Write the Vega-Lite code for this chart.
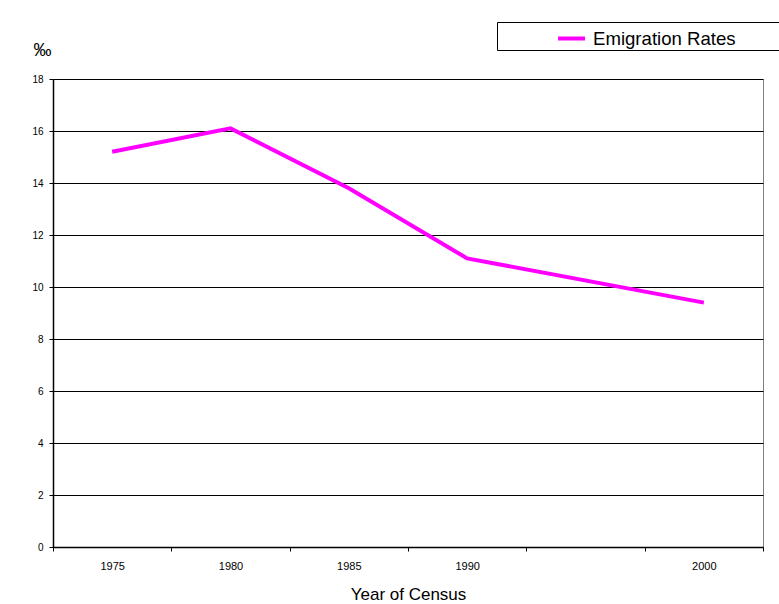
{
  "$schema": "https://vega.github.io/schema/vega-lite/v6.json",
  "width": 710,
  "height": 468,
  "autosize": {"type": "none"},
  "padding": {"left": 53, "top": 79, "right": 16, "bottom": 57},
  "background": "white",
  "config": {
    "font": "Liberation Sans",
    "view": {"stroke": "#808080", "strokeWidth": 1}
  },
  "data": {
    "values": [
      {"year": "1975", "rate": 15.2, "series": "Emigration Rates"},
      {"year": "1980", "rate": 16.1, "series": "Emigration Rates"},
      {"year": "1985", "rate": 13.8, "series": "Emigration Rates"},
      {"year": "1990", "rate": 11.1, "series": "Emigration Rates"},
      {"year": "2000", "rate": 9.4, "series": "Emigration Rates"}
    ]
  },
  "mark": {"type": "line", "strokeWidth": 4},
  "encoding": {
    "x": {
      "field": "year",
      "type": "ordinal",
      "bandPosition": 0.5,
      "scale": {"type": "band", "domain": ["1975", "1980", "1985", "1990", "1995", "2000"], "paddingInner": 0, "paddingOuter": 0},
      "axis": {
        "title": "Year of Census",
        "titleFontSize": 17,
        "titleFontWeight": "normal",
        "titleColor": "black",
        "titleBaseline": "middle",
        "titleY": 47,
        "labelAngle": 0,
        "labelFontSize": 11,
        "labelColor": "black",
        "labelPadding": 9,
        "labelExpr": "datum.value == '1995' ? '' : datum.value",
        "tickBand": "extent",
        "tickSize": 4,
        "tickColor": "black",
        "domainColor": "black",
        "domainWidth": 1.5,
        "grid": false
      }
    },
    "y": {
      "field": "rate",
      "type": "quantitative",
      "scale": {"domain": [0, 18], "nice": false},
      "axis": {
        "title": "‰",
        "titleAngle": 0,
        "titleFontSize": 18,
        "titleFontWeight": "normal",
        "titleColor": "black",
        "titleX": -11,
        "titleY": -29,
        "titleAlign": "center",
        "titleBaseline": "middle",
        "values": [0, 2, 4, 6, 8, 10, 12, 14, 16, 18],
        "labelFontSize": 10,
        "labelColor": "black",
        "labelPadding": 6,
        "tickSize": 4,
        "tickColor": "black",
        "domainColor": "black",
        "domainWidth": 1.5,
        "grid": true,
        "gridColor": "black",
        "gridWidth": 1,
        "gridOpacity": 1
      }
    },
    "color": {
      "field": "series",
      "type": "nominal",
      "scale": {"range": ["#FF00FF"]},
      "legend": {
        "title": null,
        "orient": "none",
        "legendX": 444,
        "legendY": -57,
        "direction": "vertical",
        "symbolType": "stroke",
        "symbolStrokeWidth": 4,
        "symbolSize": 729,
        "symbolOffset": 58,
        "labelFontSize": 18.6,
        "labelColor": "black",
        "labelOffset": 6,
        "labelLimit": 500,
        "labelExpr": "datum.label + '\u2800\u2800\u2800\u2800\u2800\u2800\u2800\u2800\u2800'",
        "padding": 1,
        "strokeColor": "black",
        "fillColor": "white"
      }
    }
  }
}
